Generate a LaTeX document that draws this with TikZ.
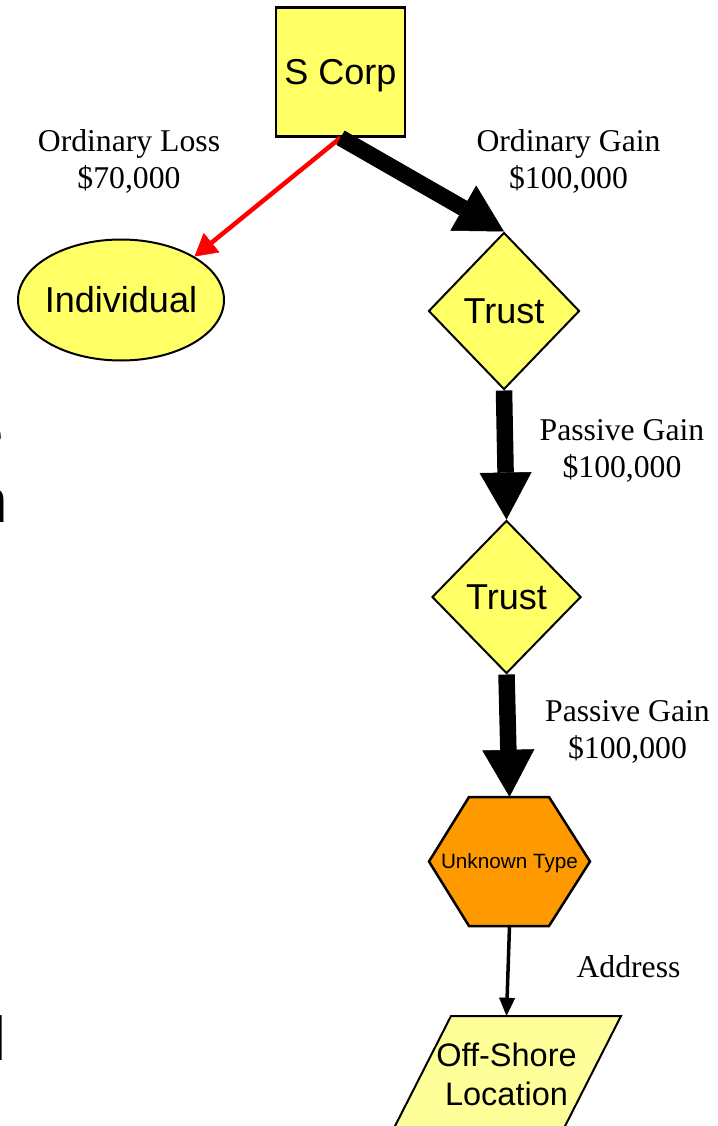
\documentclass[tikz,border=0pt]{standalone}
\usepackage{fontspec}
\setmainfont{Liberation Serif}
\newfontfamily\arial{Liberation Sans}
\usetikzlibrary{arrows.meta,shapes.geometric}
\definecolor{boxyellow}{HTML}{FFFF66}
\definecolor{paleyellow}{HTML}{FFFF99}
\definecolor{hexorange}{HTML}{FF9900}
\definecolor{lossred}{HTML}{FF0000}
\begin{document}
\begin{tikzpicture}[x=1pt,y=-1pt,
  shapebox/.style={draw=black, line width=2pt, fill=boxyellow, inner sep=0pt,
    text height=25.8pt, text depth=0pt, font=\arial\fontsize{36}{43}\selectfont},
  flowlabel/.style={inner sep=0pt, anchor=base, font=\fontsize{31.7}{37}\selectfont},
  frag/.style={inner sep=0pt, anchor=base east, font=\arial\fontsize{62}{70}\selectfont},
  bigarrow/.style={draw=black, line width=16.5pt, -{Triangle[length=47pt,width=52pt,line width=0.5pt]}},
  thinarrow/.style={draw=black, line width=3.5pt, -{Triangle[length=18pt,width=16pt,line width=0.5pt]}},
  lossarrow/.style={draw=lossred, line width=4.5pt, -{Triangle[length=22pt,width=25pt,line width=0.5pt]}},
]
\useasboundingbox (0,0) rectangle (717,1126);
\clip (0,0) rectangle (717,1126);

% clipped text fragments at the left edge
\node[frag] (fragE) at (3.8,454) {e};
\node[frag] (fragN) at (8.6,522) {n};
\node[frag] (fragL) at (6.6,1060) {l};

% shapes
\node[shapebox, rectangle, minimum width=129pt, minimum height=129pt, line width=2.5pt] (scorp) at (340.5,72) {S Corp};
\node[shapebox, ellipse, inner xsep=-10pt, minimum width=206pt, minimum height=121pt] (ind) at (121,300) {Individual};
\node[shapebox, diamond, minimum width=151pt, minimum height=157pt] (trustA) at (504,311) {Trust};
\node[shapebox, diamond, minimum width=149pt, minimum height=153pt] (trustB) at (506.5,597) {Trust};

\path[draw=black, line width=2.5pt, fill=hexorange, line join=miter]
  (469,797) -- (549,797) -- (590,861.5) -- (549,926) -- (469,926) -- (429,861.5) -- cycle;
\node[inner sep=0pt, minimum width=161pt, minimum height=129pt, text height=14.8pt, text depth=0pt,
  font=\arial\fontsize{20.7}{24}\selectfont] (hex) at (509.5,861.5) {Unknown Type};

\path[draw=black, line width=2pt, fill=paleyellow]
  (451,1016) -- (621,1016) -- (562,1132) -- (392,1132) -- cycle;
\node[inner sep=0pt, minimum width=170pt, minimum height=116pt, text height=62pt, text depth=0pt,
  font=\arial\fontsize{32.5}{39}\selectfont] (loc) at (506.5,1074)
  {\begin{tabular}[b]{@{}c@{}}Off-Shore\\Location\end{tabular}};

% labels
\node[flowlabel] (lossLabel) at (129,189) {\begin{tabular}[b]{@{}c@{}}Ordinary Loss\\\$70,000\end{tabular}};
\node[flowlabel] (gainLabel) at (568.5,189) {\begin{tabular}[b]{@{}c@{}}Ordinary Gain\\\$100,000\end{tabular}};
\node[flowlabel] (passA) at (622,477) {\begin{tabular}[b]{@{}c@{}}Passive Gain\\\$100,000\end{tabular}};
\node[flowlabel] (passB) at (627.5,758) {\begin{tabular}[b]{@{}c@{}}Passive Gain\\\$100,000\end{tabular}};
\node[flowlabel] (addr) at (628.5,977) {Address};

% connectors
\draw[lossarrow] (scorp.south) -- (ind.north east);
\draw[bigarrow] (scorp.south) -- (trustA.north);
\draw[bigarrow] (trustA.south) -- (trustB.north);
\draw[bigarrow] (trustB.south) -- (hex.north);
\draw[thinarrow] (hex.south) -- (loc.north);
\end{tikzpicture}
\end{document}
